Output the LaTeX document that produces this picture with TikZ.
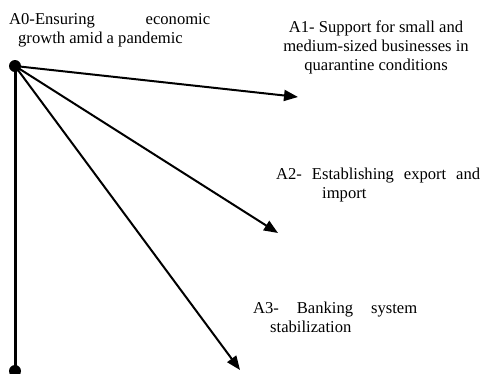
\documentclass[tikz,border=0pt]{standalone}
\usepackage{fontspec}
\setmainfont{Liberation Serif}
\usetikzlibrary{arrows.meta}
\begin{document}
\begin{tikzpicture}[x=1pt,y=-1pt,
  dot/.style={circle,fill=black,inner sep=0pt,minimum size=12pt},
  link/.style={line width=2pt,-{Triangle[length=14pt,width=11pt]}},
  stem/.style={line width=3pt},
  lbl/.style={anchor=base west,inner sep=0pt,font=\fontsize{16.6}{19}\selectfont}]
\useasboundingbox (0,0) rectangle (485,373);

% root point and the foot of the vertical axis
\node[dot] (root) at (15,66) {};
\node[dot] (foot) at (15,371) {};

% ends of the three arrows
\coordinate (t1) at (298,97);
\coordinate (t2) at (278,233);
\coordinate (t3) at (240,370);

\draw[stem] (root.center) -- (foot.center);
\draw[link] (root.center) -- (t1);
\draw[link] (root.center) -- (t2);
\draw[link] (root.center) -- (t3);

% labels
\node[lbl] (a0) at (9,24) {\parbox[t]{210pt}{\makebox[201pt][s]{A0-Ensuring\hfill economic}\\\hspace*{9pt}growth amid a pandemic}};
\node[lbl,anchor=base] (a1) at (376,32) {\parbox[t]{220pt}{\centering A1- Support for small and\\medium-sized businesses in\\quarantine conditions}};
\node[lbl] (a2) at (276,179) {\parbox[t]{210pt}{\makebox[204pt][s]{A2-\hfill Establishing\hfill export\hfill and}\\\hspace*{46pt}import}};
\node[lbl] (a3) at (253,313) {\parbox[t]{180pt}{\makebox[164pt][s]{A3-\hfill Banking\hfill system}\\\hspace*{17pt}stabilization}};
\end{tikzpicture}
\end{document}
